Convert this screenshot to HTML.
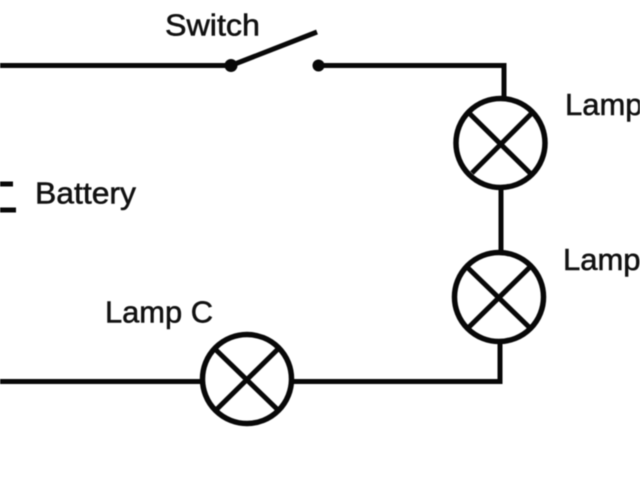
<!DOCTYPE html>
<html>
<head>
<meta charset="utf-8">
<style>
html,body{margin:0;padding:0;background:#fff;width:640px;height:480px;overflow:hidden}
svg{display:block;filter:blur(.5px)}
text{font-family:"Liberation Sans",sans-serif;font-size:31px;fill:#111;stroke:#111;stroke-width:.55px}
</style>
</head>
<body>
<svg width="640" height="480" viewBox="0 0 640 480" xmlns="http://www.w3.org/2000/svg">
<rect width="640" height="480" fill="#fff"/>
<g fill="none" stroke="#080808" stroke-width="5">
  <path d="M0 65.5H231"/>
  <path d="M231 65.5L317 32"/>
  <path d="M318 65.5H504V98"/>
  <path d="M501 188V252"/>
  <path d="M500 342V381.5H294"/>
  <path d="M200 381.5H0"/>
  <path d="M0 184H13"/>
  <path d="M0 210H16"/>
  <g stroke-width="5.500">
  <circle cx="500.5" cy="143" r="44.500"/>
  <circle cx="499" cy="297" r="44.500"/>
  <circle cx="247" cy="379" r="44.500"/>
  </g>
  <path d="M469 113L531 174M532 113L472 173"/>
  <path d="M467 267L530 328M530 267L468 328"/>
  <path d="M215 349L278 410M278 349L216 410"/>
</g>
<circle cx="231" cy="65.5" r="6.500" fill="#080808"/>
<circle cx="318.500" cy="65.5" r="6" fill="#080808"/>
<text x="165" y="35.500" textLength="95" lengthAdjust="spacingAndGlyphs">Switch</text>
<text x="35" y="203.500" textLength="101" lengthAdjust="spacingAndGlyphs">Battery</text>
<text x="105" y="322.500" textLength="108" lengthAdjust="spacingAndGlyphs">Lamp C</text>
<text x="565" y="115">Lamp</text>
<text x="563" y="270">Lamp</text>
</svg>
</body>
</html>
